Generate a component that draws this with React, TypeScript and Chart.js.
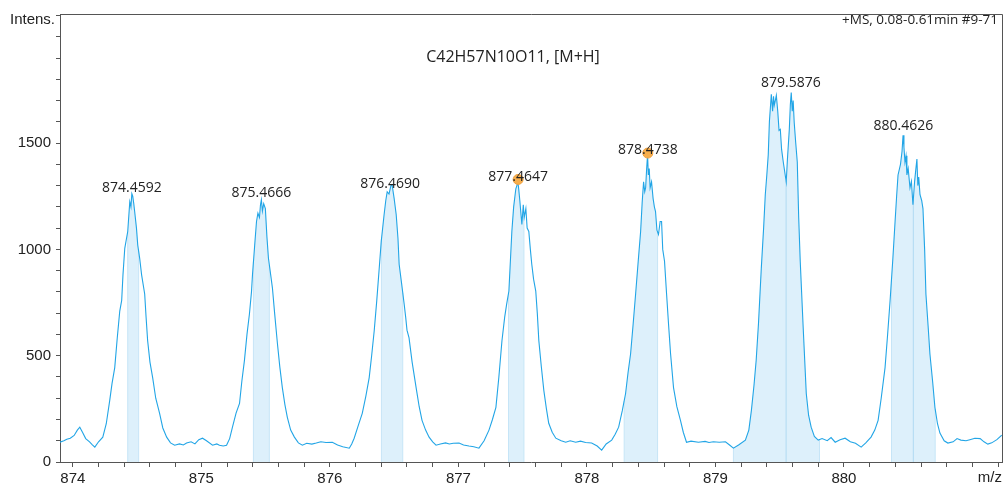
import React, { useEffect, useRef } from 'react';
import { Chart, registerables } from 'chart.js';

Chart.register(...registerables);

// Mass spectrum profile: [m/z, intensity]
const spectrum: [number, number][] = [
  [873.899, 93], [873.93, 100], [873.953, 107], [873.98, 112], [874.01, 125], [874.035, 150], [874.054, 164],
  [874.075, 140], [874.1, 110], [874.13, 95], [874.15, 82], [874.171, 70], [874.2, 95], [874.233, 117],
  [874.26, 180], [874.287, 290], [874.305, 370], [874.326, 444], [874.345, 580], [874.365, 710], [874.38, 760],
  [874.39, 880], [874.404, 1005], [874.427, 1084], [874.443, 1224], [874.452, 1200], [874.459, 1262],
  [874.466, 1250], [874.474, 1215], [874.481, 1178], [874.495, 1100], [874.505, 1020], [874.52, 958],
  [874.535, 880], [874.559, 790], [874.57, 680], [874.582, 570], [874.6, 470], [874.621, 397], [874.645, 300],
  [874.675, 229], [874.7, 160], [874.73, 117], [874.76, 90], [874.792, 79], [874.83, 85], [874.86, 80],
  [874.885, 89], [874.92, 95], [874.95, 85], [874.98, 105], [875.009, 112], [875.04, 100], [875.087, 79],
  [875.12, 85], [875.141, 79], [875.17, 75], [875.196, 79], [875.22, 110], [875.242, 164], [875.27, 230],
  [875.297, 276], [875.315, 380], [875.335, 477], [875.355, 600], [875.374, 696], [875.39, 800], [875.398, 883],
  [875.415, 1020], [875.429, 1131], [875.44, 1170], [875.452, 1150], [875.46, 1210], [875.467, 1234],
  [875.475, 1180], [875.485, 1215], [875.498, 1192], [875.51, 1060], [875.522, 958], [875.535, 900],
  [875.553, 818], [875.57, 700], [875.592, 556], [875.61, 450], [875.63, 350], [875.65, 270], [875.669, 210],
  [875.695, 150], [875.724, 117], [875.755, 90], [875.786, 79], [875.82, 88], [875.86, 84], [875.894, 89],
  [875.93, 95], [875.97, 92], [876.019, 93], [876.06, 80], [876.1, 72], [876.151, 65], [876.17, 85],
  [876.189, 112], [876.22, 170], [876.252, 229], [876.28, 310], [876.306, 397], [876.325, 500], [876.345, 617],
  [876.365, 760], [876.384, 911], [876.4, 1040], [876.422, 1164], [876.435, 1230], [876.446, 1271],
  [876.46, 1260], [876.475, 1300], [876.484, 1304], [876.5, 1240], [876.516, 1164], [876.53, 1050],
  [876.539, 930], [876.558, 840], [876.578, 743], [876.59, 680], [876.6, 620], [876.616, 584], [876.64, 470],
  [876.671, 350], [876.695, 260], [876.717, 196], [876.745, 150], [876.772, 117], [876.8, 95], [876.826, 79],
  [876.86, 85], [876.9, 90], [876.93, 85], [876.96, 88], [877.005, 89], [877.04, 80], [877.082, 75],
  [877.12, 72], [877.16, 65], [877.2, 100], [877.238, 150], [877.265, 200], [877.292, 257], [877.315, 400],
  [877.339, 570], [877.36, 680], [877.375, 740], [877.393, 804], [877.405, 950], [877.416, 1084], [877.43, 1200],
  [877.447, 1285], [877.455, 1300], [877.463, 1318], [877.47, 1280], [877.478, 1230], [877.485, 1180],
  [877.494, 1117], [877.505, 1210], [877.512, 1150], [877.525, 1192], [877.535, 1100], [877.548, 1084],
  [877.56, 1000], [877.571, 930], [877.585, 860], [877.602, 804], [877.614, 700], [877.626, 570], [877.645, 450],
  [877.665, 336], [877.685, 250], [877.703, 182], [877.73, 140], [877.758, 112], [877.8, 100], [877.835, 93],
  [877.87, 100], [877.913, 93], [877.95, 98], [877.99, 92], [878.037, 89], [878.08, 75], [878.115, 56],
  [878.15, 85], [878.193, 103], [878.22, 130], [878.247, 164], [878.275, 240], [878.301, 322], [878.32, 420],
  [878.34, 509], [878.36, 650], [878.379, 790], [878.4, 950], [878.418, 1084], [878.43, 1220], [878.441, 1318],
  [878.45, 1271], [878.457, 1290], [878.465, 1380], [878.472, 1445], [878.478, 1350], [878.485, 1380],
  [878.492, 1290], [878.503, 1318], [878.515, 1240], [878.525, 1200], [878.534, 1178], [878.545, 1090],
  [878.557, 1070], [878.57, 1131], [878.581, 1131], [878.59, 1000], [878.604, 944], [878.62, 790],
  [878.635, 650], [878.651, 509], [878.674, 350], [878.7, 260], [878.728, 196], [878.75, 140], [878.775, 93],
  [878.81, 98], [878.868, 93], [878.92, 97], [878.95, 92], [878.984, 95], [879.03, 93], [879.078, 95],
  [879.11, 80], [879.14, 65], [879.18, 80], [879.233, 103], [879.26, 150], [879.28, 243], [879.3, 360],
  [879.317, 477], [879.335, 650], [879.357, 911], [879.375, 1100], [879.388, 1257], [879.4, 1350],
  [879.411, 1444], [879.42, 1600], [879.435, 1729], [879.445, 1650], [879.452, 1720], [879.458, 1678],
  [879.466, 1700], [879.474, 1724], [879.485, 1650], [879.495, 1560], [879.505, 1565], [879.515, 1470],
  [879.528, 1411], [879.551, 1318], [879.56, 1420], [879.575, 1565], [879.583, 1680], [879.59, 1738],
  [879.598, 1650], [879.605, 1700], [879.613, 1598], [879.625, 1500], [879.637, 1411], [879.648, 1150],
  [879.66, 944], [879.683, 631], [879.707, 322], [879.725, 220], [879.745, 164], [879.77, 120], [879.8, 103],
  [879.83, 110], [879.87, 100], [879.9, 115], [879.932, 93], [879.97, 105], [880.009, 112], [880.05, 95],
  [880.09, 88], [880.134, 70], [880.17, 90], [880.211, 117], [880.24, 150], [880.266, 196], [880.29, 300],
  [880.32, 444], [880.34, 600], [880.359, 757], [880.38, 950], [880.398, 1131], [880.41, 1250], [880.421, 1350],
  [880.44, 1400], [880.452, 1460], [880.46, 1537], [880.467, 1480], [880.475, 1411], [880.483, 1440],
  [880.49, 1350], [880.5, 1380], [880.514, 1290], [880.525, 1320], [880.537, 1210], [880.55, 1320],
  [880.56, 1380], [880.568, 1425], [880.575, 1300], [880.582, 1340], [880.592, 1257], [880.605, 1230],
  [880.615, 1192], [880.628, 1000], [880.638, 790], [880.655, 640], [880.669, 509], [880.69, 380],
  [880.708, 257], [880.728, 180], [880.747, 136], [880.78, 100], [880.809, 89], [880.85, 95], [880.88, 110],
  [880.91, 103], [880.95, 100], [880.98, 105], [881.019, 112], [881.06, 110], [881.09, 95], [881.12, 84],
  [881.15, 90], [881.19, 105], [881.228, 126],
];

// Labelled peaks
const peakMz = [874.4592, 875.4666, 876.469, 877.4647, 878.4738, 879.5876, 880.4626];
const peakLabels = ['874.4592', '875.4666', '876.4690', '877.4647', '878.4738', '879.5876', '880.4626'];
const peakLabelIntensity = [1271, 1248, 1290, 1322, 1449, 1762, 1561];

// Shaded integration regions
const regionStart = [874.427, 875.405, 876.401, 877.39, 878.29, 879.14, 880.37];
const regionEnd = [874.512, 875.529, 876.567, 877.51, 878.55, 879.81, 880.71];
const centroidLines = [879.55, 880.54];

// Highlighted points
const markerMz = [877.4647, 878.4738];
const markerIntensity = [1329, 1453];

// Axis ticks / labels
const xMin = 873.9;
const xMax = 881.23;
const xMinorStep = 0.2;
const xTickLabels = ['874', '875', '876', '877', '878', '879', '880'];
const yMax = 2107;
const yMinorStep = 100;
const yTickLabels = ['0', '500', '1000', '1500'];

const titleText = 'C42H57N10O11, [M+H]';
const infoText = '+MS, 0.08-0.61min #9-71';
const yAxisTitle = 'Intens.';
const xAxisTitle = 'm/z';

const LINE = '#22a5e6';
const FILL = '#ddf0fb';
const EDGE = '#c6e5f7';
const AXIS = '#555555';

function valueAt(mz: number): number {
  for (let i = 1; i < spectrum.length; i++) {
    const [x0, y0] = spectrum[i - 1];
    const [x1, y1] = spectrum[i];
    if (mz >= x0 && mz <= x1) {
      return y0 + ((y1 - y0) * (mz - x0)) / (x1 - x0);
    }
  }
  return 0;
}

export default function App() {
  const ref = useRef<HTMLCanvasElement | null>(null);

  useEffect(() => {
    if (!ref.current) return;

    const regionSets = regionStart.map((s, i) => {
      const e = regionEnd[i];
      const pts = [{ x: s, y: valueAt(s) }];
      spectrum.forEach(([x, y]) => {
        if (x > s && x < e) pts.push({ x, y });
      });
      pts.push({ x: e, y: valueAt(e) });
      return {
        type: 'line' as const,
        data: pts,
        borderWidth: 0,
        borderColor: 'rgba(0,0,0,0)',
        backgroundColor: FILL,
        fill: 'origin',
        pointRadius: 0,
        order: 10,
      };
    });

    const edgeValues = [...regionStart, ...regionEnd];
    const edgeSets = edgeValues.map((c) => ({
      type: 'line' as const,
      data: [{ x: c, y: 0 }, { x: c, y: valueAt(c) }],
      borderWidth: 1,
      borderColor: EDGE,
      pointRadius: 0,
      fill: false,
      order: 6,
    }));

    const centroidSets = centroidLines.map((c) => ({
      type: 'line' as const,
      data: [{ x: c, y: 0 }, { x: c, y: valueAt(c) }],
      borderWidth: 1,
      borderColor: '#b0daf2',
      pointRadius: 0,
      fill: false,
      order: 5,
    }));

    const framePlugin = {
      id: 'frame',
      afterDraw(chart: any) {
        const { ctx, chartArea, scales } = chart;
        ctx.save();
        ctx.strokeStyle = AXIS;
        ctx.lineWidth = 1;
        ctx.beginPath();
        ctx.moveTo(chartArea.left, chartArea.top + 0.5);
        ctx.lineTo(chartArea.right + 0.5, chartArea.top + 0.5);
        ctx.lineTo(chartArea.right + 0.5, chartArea.bottom);
        ctx.stroke();

        ctx.fillStyle = '#222';
        ctx.font = '15px "Liberation Sans", Arial, sans-serif';
        ctx.textAlign = 'left';
        ctx.textBaseline = 'alphabetic';
        ctx.fillText(yAxisTitle, 10, 24);
        ctx.textAlign = 'right';
        ctx.fillText(xAxisTitle, 1002, 482);

        ctx.font = '13.5px "Open Sans", sans-serif';
        ctx.textAlign = 'right';
        ctx.fillText(infoText, 998, 24);

        ctx.font = '16px "Open Sans", sans-serif';
        ctx.textAlign = 'center';
        ctx.fillText(titleText, 513, 62);

        ctx.font = '14px "Open Sans", sans-serif';
        peakMz.forEach((mz, i) => {
          const px = scales.x.getPixelForValue(mz);
          const py = scales.y.getPixelForValue(peakLabelIntensity[i]);
          ctx.fillText(peakLabels[i], px, py);
        });
        ctx.restore();
      },
    };

    const tickFont = { family: '"Liberation Sans", Arial, sans-serif', size: 15 };

    const chart = new Chart(ref.current, {
      type: 'line',
      data: {
        datasets: [
          {
            type: 'scatter' as const,
            data: markerMz.map((x, i) => ({ x, y: markerIntensity[i] })),
            pointRadius: 5,
            pointBackgroundColor: '#f7ae4c',
            pointBorderColor: '#eea040',
            pointBorderWidth: 1,
            showLine: false,
            order: 0,
          },
          {
            type: 'line' as const,
            data: spectrum.map(([x, y]) => ({ x, y })),
            borderColor: LINE,
            borderWidth: 1.1,
            pointRadius: 0,
            fill: false,
            tension: 0,
            order: 1,
          },
          ...centroidSets,
          ...edgeSets,
          ...regionSets,
        ] as any,
      },
      options: {
        responsive: false,
        animation: false,
        events: [],
        layout: { padding: { top: 11, right: 4, left: 0, bottom: 0 } },
        plugins: {
          legend: { display: false },
          tooltip: { enabled: false },
          title: { display: false },
        },
        scales: {
          x: {
            type: 'linear',
            min: xMin,
            max: xMax,
            afterBuildTicks: (s: any) => {
              const t: any[] = [];
              const first = Math.ceil(xMin / xMinorStep - 1e-9);
              const last = Math.floor(xMax / xMinorStep + 1e-9);
              for (let k = first; k <= last; k++) t.push({ value: Math.round(k * xMinorStep * 1000) / 1000 });
              s.ticks = t;
            },
            ticks: {
              autoSkip: false,
              maxRotation: 0,
              padding: 3,
              color: '#222',
              font: tickFont,
              callback: (v: any) => {
                const n = Number(v);
                const r = Math.round(n);
                if (Math.abs(n - r) < 1e-6 && xTickLabels.includes(String(r))) return String(r);
                return '';
              },
            },
            grid: {
              drawOnChartArea: false,
              drawTicks: true,
              tickLength: 5,
              tickColor: AXIS,
              color: AXIS,
            },
            border: { display: true, color: AXIS, width: 1 },
            afterFit: (s: any) => {
              s.height = 24;
            },
          },
          y: {
            type: 'linear',
            min: 0,
            max: yMax,
            afterBuildTicks: (s: any) => {
              const t: any[] = [];
              for (let v = 0; v <= yMax; v += yMinorStep) t.push({ value: v });
              s.ticks = t;
            },
            ticks: {
              autoSkip: false,
              padding: 5,
              color: '#222',
              font: tickFont,
              callback: (v: any) => {
                const n = Math.round(Number(v));
                if (yTickLabels.includes(String(n))) return String(n);
                return '';
              },
            },
            grid: {
              drawOnChartArea: false,
              drawTicks: true,
              tickLength: 4,
              tickColor: AXIS,
              color: AXIS,
            },
            border: { display: true, color: AXIS, width: 1 },
            afterFit: (s: any) => {
              s.width = 60;
            },
          },
        },
      } as any,
      plugins: [framePlugin],
    });

    return () => chart.destroy();
  }, []);

  return (
    <div style={{ position: 'fixed', left: 0, top: 0, width: 1008, height: 486, background: '#fff' }}>
      <canvas ref={ref} width={1008} height={486} style={{ display: 'block' }} />
    </div>
  );
}
